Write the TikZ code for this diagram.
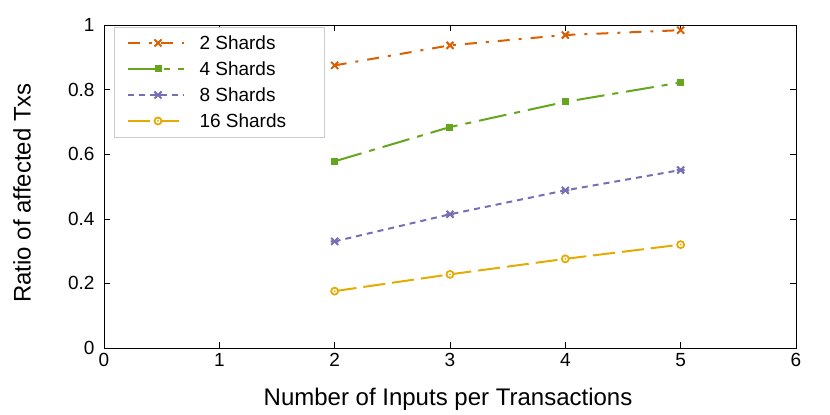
\documentclass[tikz,border=0pt]{standalone}
\usepackage{fontspec}
\setmainfont{Liberation Sans}
\definecolor{cA}{RGB}{217,95,2}
\definecolor{cB}{RGB}{102,166,30}
\definecolor{cC}{RGB}{117,112,179}
\definecolor{cD}{RGB}{230,171,2}
\begin{document}
\begin{tikzpicture}[x=1pt,y=1pt,
  lbl/.style={font=\fontsize{19}{19}\selectfont},
  ser/.style={line width=2pt},
  c2/.style={ser,draw=cA,dash pattern=on 12pt off 9pt on 3pt off 9pt},
  c4/.style={ser,draw=cB,dash pattern=on 28pt off 8pt on 6pt off 8pt},
  c8/.style={ser,draw=cC,dash pattern=on 6pt off 5pt},
  c16/.style={ser,draw=cD,dash pattern=on 22pt off 7pt}]
\useasboundingbox (0,0) rectangle (830,415);
\def\X#1{104+115.33*#1}
\def\Y#1{67+323*#1}
% frame
\draw[line width=0.8pt] (104,67) rectangle (796,390);
\foreach \i in {0,...,6}{
  \draw (\X{\i},67) -- ++(0,6);
  \draw (\X{\i},390) -- ++(0,-6);
  \node[lbl,below] at (\X{\i},65) {\i};}
\foreach \v/\t in {0/0,0.2/0.2,0.4/0.4,0.6/0.6,0.8/0.8,1/1}{
  \draw (104,\Y{\v}) -- ++(6,0);
  \draw (796,\Y{\v}) -- ++(-6,0);
  \node[lbl,left] at (98,\Y{\v}) {\t};}
\node[font=\fontsize{24}{24}\selectfont] at (448,16) {Number of Inputs per Transactions};
\node[font=\fontsize{24}{24}\selectfont,rotate=90] at (22,222) {Ratio of affected Txs};
% series
\draw[c2] (\X2,\Y{0.875}) -- (\X3,\Y{0.937}) -- (\X4,\Y{0.969}) -- (\X5,\Y{0.984});
\draw[c4] (\X2,\Y{0.578}) -- (\X3,\Y{0.684}) -- (\X4,\Y{0.762}) -- (\X5,\Y{0.822});
\draw[c8] (\X2,\Y{0.330}) -- (\X3,\Y{0.414}) -- (\X4,\Y{0.488}) -- (\X5,\Y{0.551});
\draw[c16] (\X2,\Y{0.176}) -- (\X3,\Y{0.228}) -- (\X4,\Y{0.276}) -- (\X5,\Y{0.320});
\def\mkx#1#2{\draw[line width=2pt,draw=cA] (#1-3.5,#2-3.5)--(#1+3.5,#2+3.5) (#1-3.5,#2+3.5)--(#1+3.5,#2-3.5);}
\def\mks#1#2{\fill[cB] (#1-3.5,#2-3.5) rectangle (#1+3.5,#2+3.5);}
\def\mkst#1#2{\draw[line width=2pt,draw=cC] (#1-3.5,#2-3.5)--(#1+3.5,#2+3.5) (#1-3.5,#2+3.5)--(#1+3.5,#2-3.5) (#1-4,#2)--(#1+4,#2);}
\def\mkc#1#2{\draw[line width=1.8pt,draw=cD,fill=white] (#1,#2) circle (3.5pt); \fill[cD] (#1,#2) circle (1pt);}
\foreach \x/\a/\b/\c/\d in {2/0.875/0.578/0.330/0.176,3/0.937/0.684/0.414/0.228,4/0.969/0.762/0.488/0.276,5/0.984/0.822/0.551/0.320}{
  \mkx{\X\x}{\Y\a}\mks{\X\x}{\Y\b}\mkst{\X\x}{\Y\c}\mkc{\X\x}{\Y\d}}
% legend
\draw[draw=gray!40,fill=white] (114,278) rectangle (324,388);
\foreach \k/\s/\t/\m in {0/c2/2 Shards/\mkx,1/c4/4 Shards/\mks,2/c8/8 Shards/\mkst,3/c16/16 Shards/\mkc}{
  \draw[\s] (128,{372-26*\k}) -- (184,{372-26*\k});
  \m{158}{372-26*\k}
  \node[lbl,anchor=west] at (196,{372-26*\k}) {\t};}
\end{tikzpicture}
\end{document}
